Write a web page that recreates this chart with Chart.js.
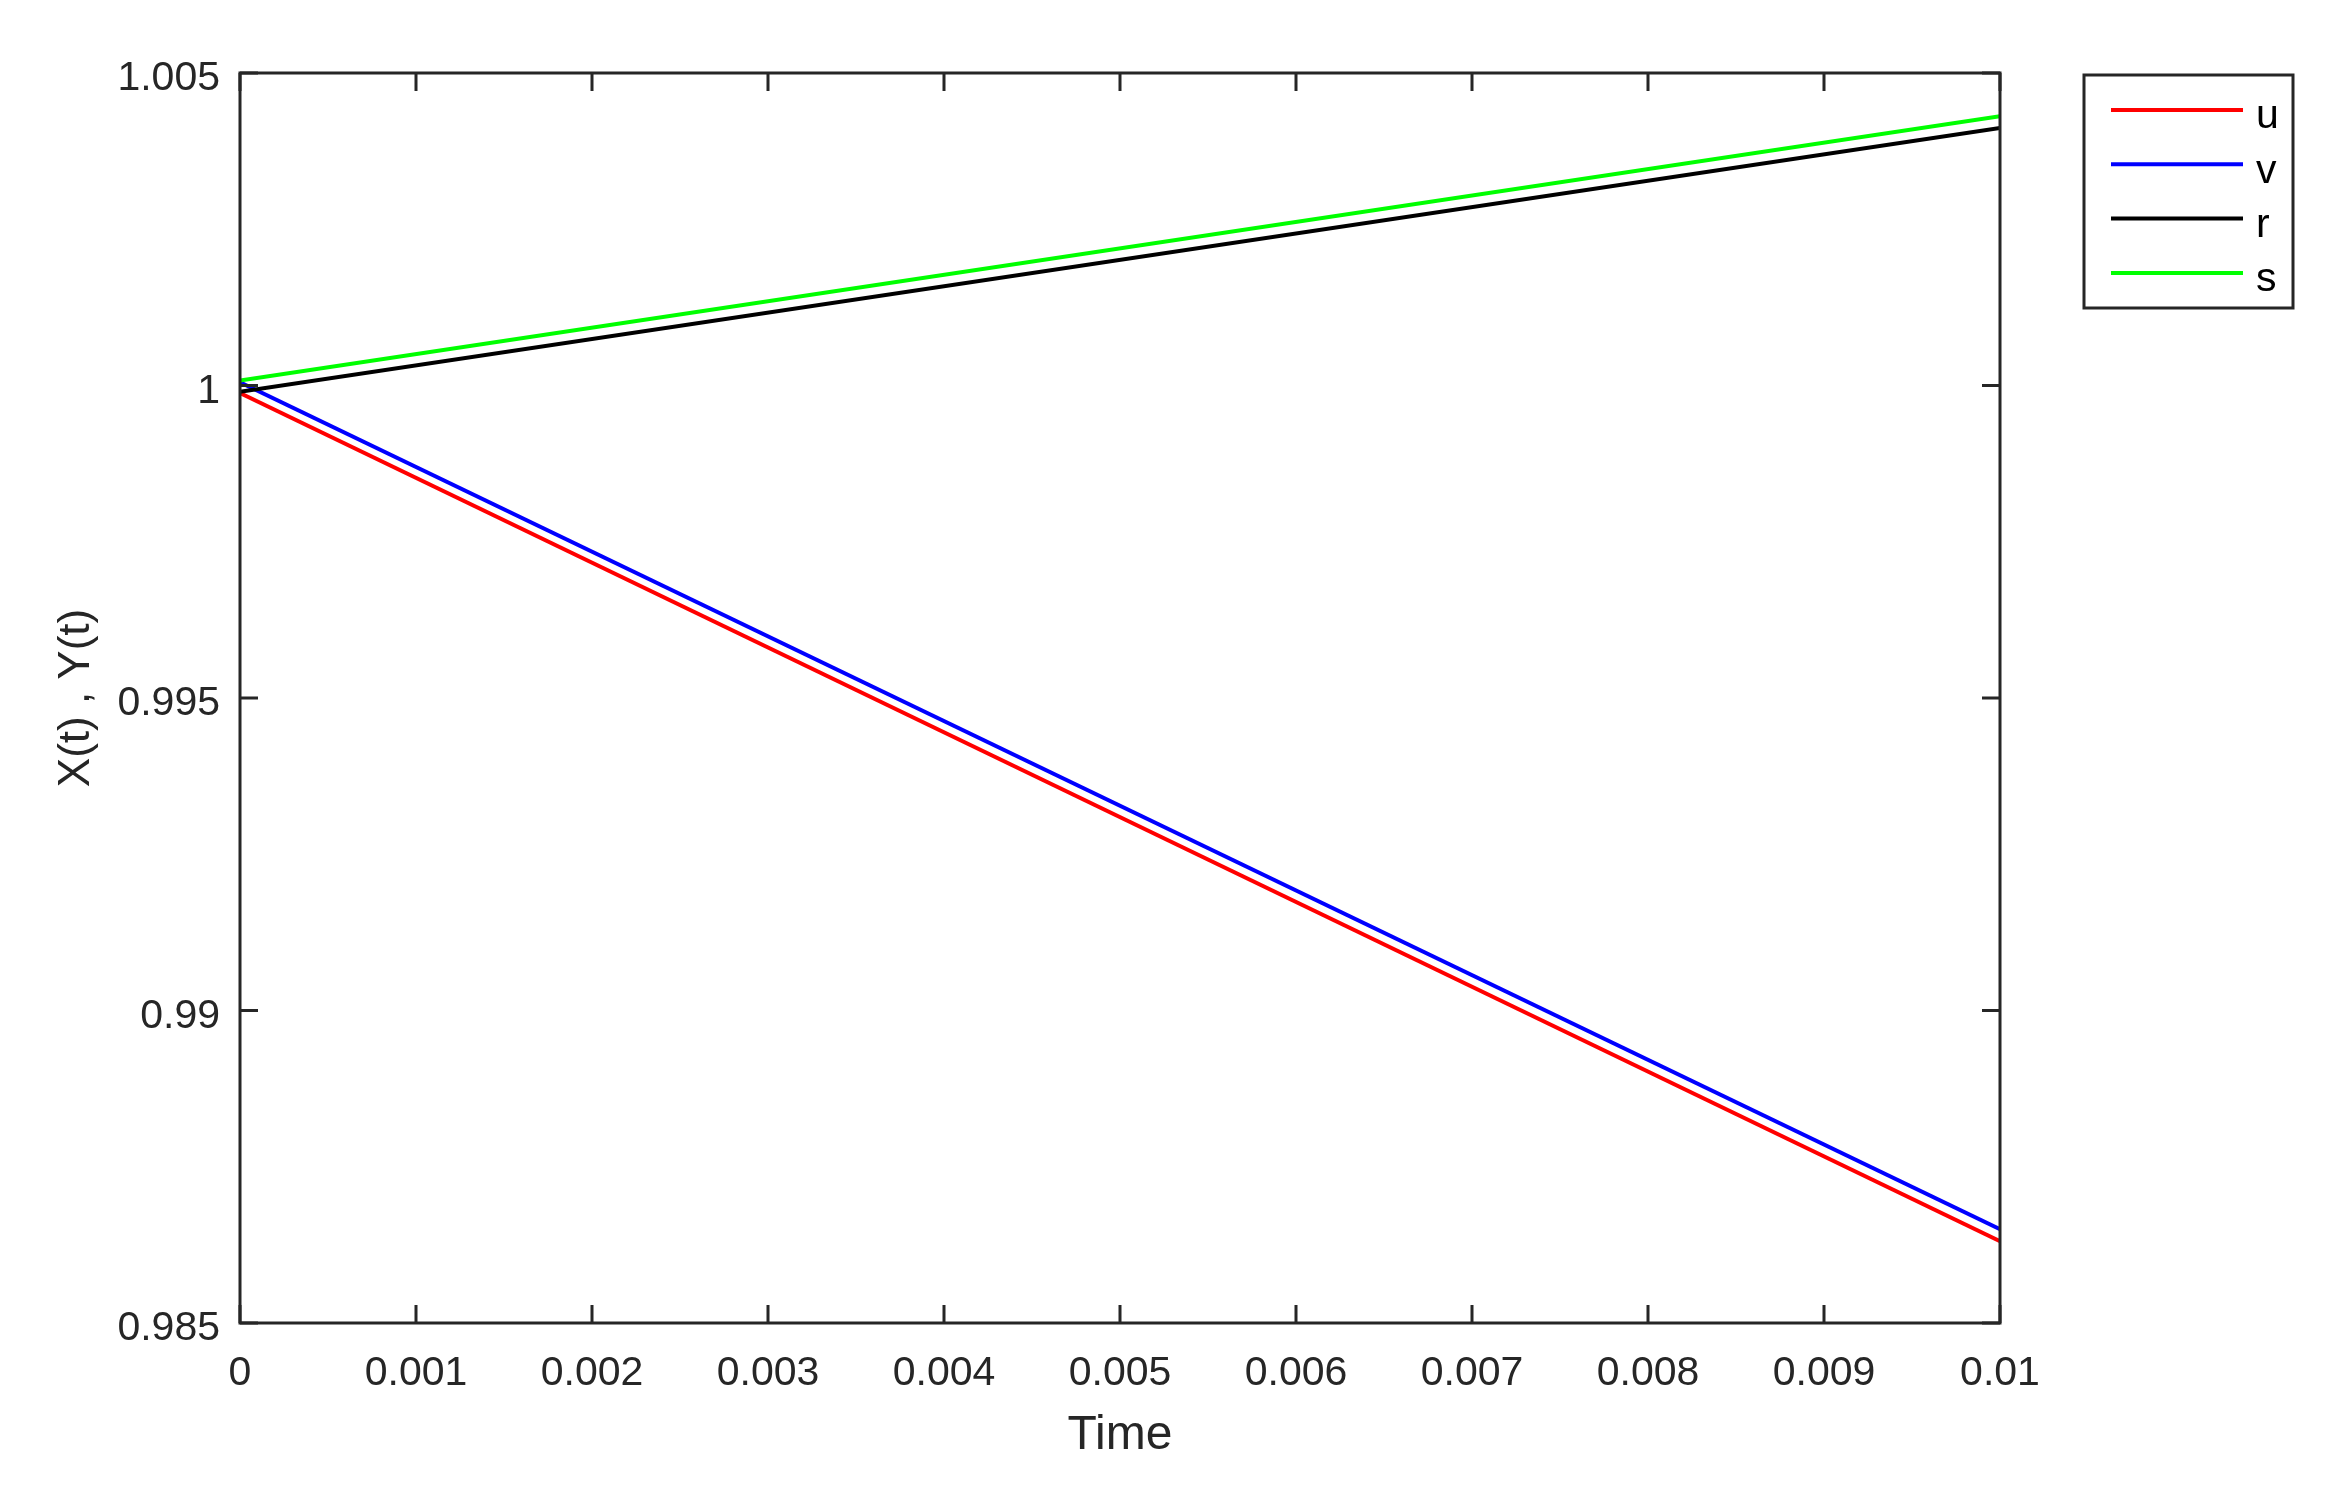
<!DOCTYPE html>
<html>
<head>
<meta charset="utf-8">
<script src="https://cdn.jsdelivr.net/npm/chart.js@4"></script>
<style>
  html, body { margin: 0; padding: 0; background: #fff; }
  #myChart { display: block; }
</style>
</head>
<body>
<canvas id="myChart" width="2352" height="1498"></canvas>
<script>
  // datos
  const tiempo = [0, 0.01];
  const serieU = [0.99988, 0.98631];
  const serieV = [1.00005, 0.98650];
  const serieR = [0.99990, 1.00412];
  const serieS = [1.00008, 1.00431];

  const nombres = ['u', 'v', 'r', 's'];
  const colores = ['#ff0000', '#0000ff', '#000000', '#00ff00'];

  const ticksX = [0, 0.001, 0.002, 0.003, 0.004, 0.005, 0.006, 0.007, 0.008, 0.009, 0.01];
  const etiquetasX = ['0', '0.001', '0.002', '0.003', '0.004', '0.005', '0.006', '0.007', '0.008', '0.009', '0.01'];
  const ticksY = [0.985, 0.99, 0.995, 1, 1.005];
  const etiquetasY = ['0.985', '0.99', '0.995', '1', '1.005'];

  const colorEjes = '#262626';
  const fuente = '"Liberation Sans", Arial, Helvetica, sans-serif';

  function puntos(ys) {
    return tiempo.map((t, i) => ({ x: t, y: ys[i] }));
  }

  // caja del grafico con marcas hacia adentro
  const cajaPlugin = {
    id: 'caja',
    afterDatasetsDraw(chart) {
      const { ctx, chartArea: a, scales } = chart;
      const largo = 18;
      ctx.save();
      ctx.strokeStyle = colorEjes;
      ctx.lineWidth = 3;
      ctx.beginPath();
      ticksX.forEach(v => {
        const px = scales.x.getPixelForValue(v);
        ctx.moveTo(px, a.bottom); ctx.lineTo(px, a.bottom - largo);
        ctx.moveTo(px, a.top); ctx.lineTo(px, a.top + largo);
      });
      ticksY.forEach(v => {
        const py = scales.y.getPixelForValue(v);
        ctx.moveTo(a.left, py); ctx.lineTo(a.left + largo, py);
        ctx.moveTo(a.right, py); ctx.lineTo(a.right - largo, py);
      });
      ctx.stroke();
      ctx.strokeRect(a.left, a.top, a.right - a.left, a.bottom - a.top);
      ctx.restore();
    }
  };

  // leyenda a la derecha, como en matlab
  const leyendaPlugin = {
    id: 'leyenda',
    afterDraw(chart) {
      const ctx = chart.ctx;
      const x0 = 2084, y0 = 75, ancho = 209, alto = 233;
      ctx.save();
      ctx.fillStyle = '#fff';
      ctx.fillRect(x0, y0, ancho, alto);
      ctx.strokeStyle = colorEjes;
      ctx.lineWidth = 3;
      ctx.strokeRect(x0, y0, ancho, alto);
      chart.data.datasets.forEach((ds, i) => {
        const y = 110 + i * 54.3;
        ctx.strokeStyle = ds.borderColor;
        ctx.lineWidth = 4;
        ctx.beginPath();
        ctx.moveTo(2111, y);
        ctx.lineTo(2243, y);
        ctx.stroke();
        ctx.fillStyle = '#000';
        ctx.font = '41px ' + fuente;
        ctx.textAlign = 'left';
        ctx.textBaseline = 'middle';
        ctx.fillText(ds.label, 2256, y + 7);
      });
      ctx.restore();
    }
  };

  const datasets = [serieU, serieV, serieR, serieS].map((serie, i) => ({
    label: nombres[i],
    data: puntos(serie),
    borderColor: colores[i],
    backgroundColor: colores[i],
    borderWidth: 4,
    pointRadius: 0,
    fill: false,
    tension: 0,
    order: 4 - i
  }));

  const ctx = document.getElementById('myChart');
  new Chart(ctx, {
    type: 'line',
    data: { datasets: datasets },
    options: {
      responsive: false,
      animation: false,
      devicePixelRatio: 1,
      layout: { padding: { left: 0, top: 73, right: 352, bottom: 0 } },
      plugins: {
        legend: { display: false },
        tooltip: { enabled: false }
      },
      scales: {
        x: {
          type: 'linear',
          min: 0,
          max: 0.01,
          afterBuildTicks(axis) { axis.ticks = ticksX.map(v => ({ value: v })); },
          afterFit(axis) { axis.height = 175; },
          grid: { display: false, drawTicks: false },
          border: { display: false },
          ticks: {
            color: colorEjes,
            padding: 26,
            maxRotation: 0,
            autoSkip: false,
            font: { family: fuente, size: 41 },
            callback: (v, i) => etiquetasX[i]
          },
          title: {
            display: true,
            text: 'Time',
            color: colorEjes,
            font: { family: fuente, size: 48 },
            padding: { top: 0, bottom: 33 }
          }
        },
        y: {
          type: 'linear',
          min: 0.985,
          max: 1.005,
          afterBuildTicks(axis) { axis.ticks = ticksY.map(v => ({ value: v })); },
          afterFit(axis) { axis.width = 240; },
          grid: { display: false, drawTicks: false },
          border: { display: false },
          ticks: {
            color: colorEjes,
            padding: 20,
            labelOffset: 6,
            autoSkip: false,
            font: { family: fuente, size: 41 },
            callback: (v, i) => etiquetasY[i]
          },
          title: {
            display: true,
            text: 'X(t) , Y(t)',
            color: colorEjes,
            font: { family: fuente, size: 44 },
            padding: { top: 50, bottom: 0 }
          }
        }
      }
    },
    plugins: [cajaPlugin, leyendaPlugin]
  });
</script>
</body>
</html>
